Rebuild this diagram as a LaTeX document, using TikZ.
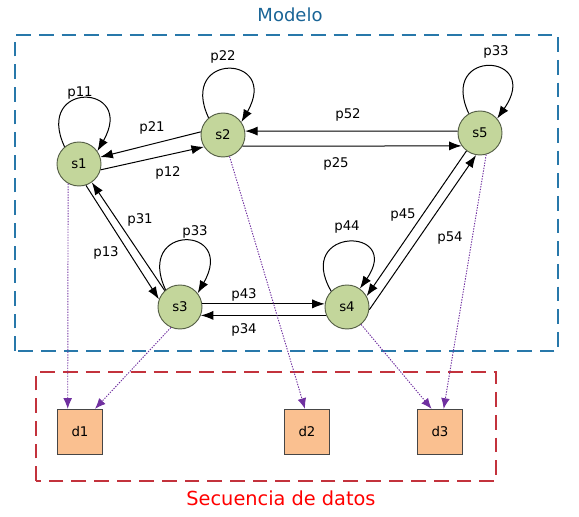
\documentclass[tikz,border=0pt]{standalone}
\usepackage{fontspec}
\setmainfont{DejaVu Sans}
\usetikzlibrary{arrows.meta}
\definecolor{stategreen}{RGB}{195,214,155}
\definecolor{stateline}{RGB}{85,95,70}
\definecolor{dataorange}{RGB}{250,192,144}
\definecolor{dataline}{RGB}{70,70,70}
\definecolor{modelblue}{RGB}{40,120,170}
\definecolor{modeltext}{RGB}{25,100,150}
\definecolor{seqred}{RGB}{195,50,60}
\definecolor{emitpurple}{RGB}{112,48,160}
\tikzset{%
  >={Latex[width=2.4mm,length=3.3mm]},
  % Specifications for style of nodes:
       state/.style = {circle, draw=stateline, fill=stategreen,
                       line width=0.7pt, minimum size=33pt, inner sep=0pt,
                       font=\fontsize{10}{12}\selectfont},
        data/.style = {rectangle, draw=dataline, fill=dataorange,
                       line width=0.7pt, minimum width=33.5pt,
                       minimum height=34pt, inner sep=0pt,
                       font=\fontsize{10}{12}\selectfont},
        prob/.style = {inner sep=1pt, font=\fontsize{10}{12}\selectfont},
       title/.style = {inner sep=1pt},
  % Specifications for style of lines:
       trans/.style = {->, line width=0.75pt},
        emit/.style = {-{Latex[width=2.3mm,length=2.8mm]}, draw=emitpurple,
                       line width=0.7pt, dash pattern=on 1pt off 1pt},
    groupbox/.style = {line width=1.8pt, dash pattern=on 11pt off 6pt},
}

\begin{document}
\begin{tikzpicture}[x=0.75pt, y=0.75pt]
\useasboundingbox (0,0) rectangle (579,517);

\draw[groupbox, modelblue] (15,166) rectangle (558,482);
\draw[groupbox, seqred]    (36,36) rectangle (496,145);

\node (modelo)    [title, text=modeltext, font=\fontsize{13.5}{16}\selectfont]
                  at (290,502) {Modelo};
\node (secuencia) [title, text=red, font=\fontsize{14.5}{17}\selectfont]
                  at (281,19) {Secuencia de datos};

\node (s1) [state] at (79,353)  {s1};
\node (s2) [state] at (223,382) {s2};
\node (s5) [state] at (480,384) {s5};
\node (s3) [state] at (180,210) {s3};
\node (s4) [state] at (347,210) {s4};

\node (d1) [data] at (80,85)  {d1};
\node (d2) [data] at (307,85) {d2};
\node (d3) [data] at (440,85) {d3};

\draw[trans] (s1.130) .. controls +(115:55pt) and +(60:59pt) .. (s1.35);
\draw[trans] (s2.130) .. controls +(115:55pt) and +(60:59pt) .. (s2.35);
\draw[trans] (s3.130) .. controls +(115:55pt) and +(60:59pt) .. (s3.38);
\draw[trans] (s4.135) .. controls +(120:56pt) and +(55:57pt) .. (s4.55);
\draw[trans] (s5.120) .. controls +(115:55pt) and +(55:60pt) .. (s5.40);

\draw[trans] (s2.172) -- (s1.18);
\draw[trans] (s1.-15) -- (s2.212);
\draw[trans] (s5.175) -- (s2.10);
\draw[trans] (s2.-30) -- (s5.215);
\draw[trans] (s3.133) -- (s1.-55);
\draw[trans] (s1.-72) -- (s3.160);
\draw[trans] (s3.8)   -- (s4.172);
\draw[trans] (s4.202) -- (s3.-22);
\draw[trans] (s5.233) -- (s4.29);
\draw[trans] (s4.-7)  -- (s5.260);

\draw[emit] (s1.241) -- (d1.118);
\draw[emit] (s3.246) -- (d1.57);
\draw[emit] (s2.287) -- (d2.95);
\draw[emit] (s4.309) -- (d3.110);
\draw[emit] (s5.286) -- (d3.81);

\node (p11)  [prob] at (80,424)  {p11};
\node (p22)  [prob] at (223,460) {p22};
\node (p21)  [prob] at (152,389) {p21};
\node (p12)  [prob] at (168,344) {p12};
\node (p31)  [prob] at (140,297) {p31};
\node (p13)  [prob] at (106,264) {p13};
\node (p33a) [prob] at (195,285) {p33};
\node (p43)  [prob] at (244,222) {p43};
\node (p34)  [prob] at (244,187) {p34};
\node (p44)  [prob] at (347,290) {p44};
\node (p45)  [prob] at (403,302) {p45};
\node (p54)  [prob] at (450,279) {p54};
\node (p52)  [prob] at (348,402) {p52};
\node (p25)  [prob] at (336,353) {p25};
\node (p33b) [prob] at (496,465) {p33};
\end{tikzpicture}
\end{document}
